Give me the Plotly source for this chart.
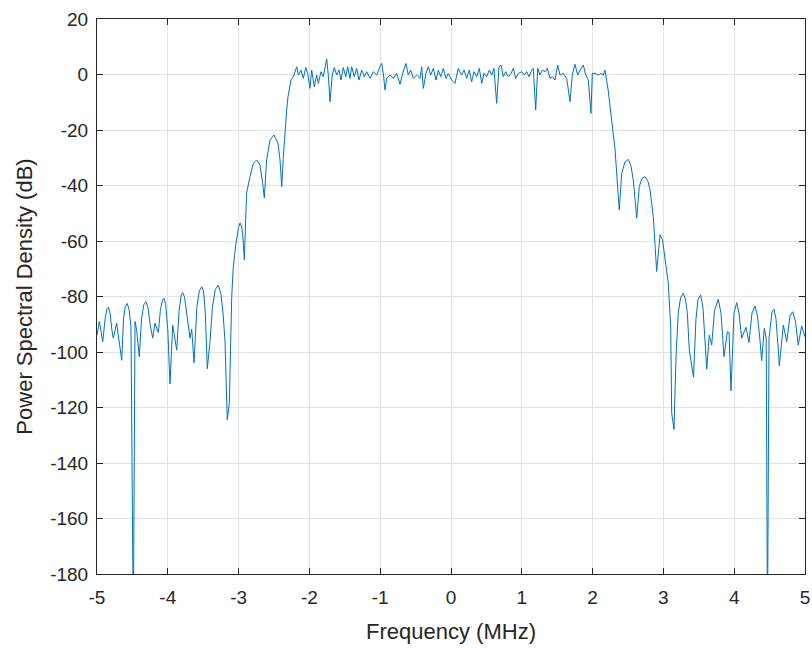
import plotly.graph_objects as go

# Frequency (MHz) and PSD (dB) samples
freq_mhz = [
    -5.000, -4.967, -4.940, -4.919, -4.885, -4.860, -4.840, -4.815, -4.790, -4.770,
    -4.722, -4.690, -4.651, -4.625, -4.600, -4.572, -4.545, -4.520, -4.487, -4.463,
    -4.440, -4.403, -4.370, -4.340, -4.308, -4.280, -4.250, -4.213, -4.181, -4.134,
    -4.105, -4.075, -4.054, -4.030, -4.000, -3.969, -3.931, -3.874, -3.840, -3.810,
    -3.790, -3.765, -3.730, -3.686, -3.662, -3.630, -3.590, -3.555, -3.521, -3.495,
    -3.470, -3.442, -3.404, -3.370, -3.330, -3.287, -3.250, -3.220, -3.192, -3.160,
    -3.131, -3.097, -3.075, -3.037, -3.000, -2.980, -2.955, -2.935, -2.919, -2.887,
    -2.839, -2.792, -2.745, -2.698, -2.660, -2.637, -2.604, -2.557, -2.500, -2.444,
    -2.415, -2.391, -2.368, -2.345, -2.321, -2.302, -2.260,
    -2.227, -2.179, -2.157, -2.119, -2.086, -2.052, -2.024, -1.992, -1.968, -1.931,
    -1.897, -1.874, -1.836, -1.804, -1.756, -1.733, -1.709, -1.677, -1.648, -1.614,
    -1.582, -1.554, -1.521, -1.487, -1.459, -1.427, -1.403, -1.366, -1.332, -1.299,
    -1.261, -1.225, -1.191, -1.144, -1.097, -1.049, -1.003, -0.979, -0.956, -0.932,
    -0.908, -0.862, -0.815, -0.767, -0.720, -0.682, -0.636, -0.603, -0.569, -0.532,
    -0.484, -0.438, -0.414, -0.391, -0.353, -0.321, -0.287, -0.250, -0.212, -0.179,
    -0.145, -0.109, -0.071, -0.038, 0.010, 0.056, 0.103, 0.151, 0.184, 0.222,
    0.258, 0.292, 0.325, 0.363, 0.400, 0.434, 0.466, 0.504, 0.541, 0.575,
    0.607, 0.645, 0.678, 0.706, 0.739, 0.773, 0.809, 0.847, 0.880, 0.914,
    0.951, 0.999, 1.035, 1.069, 1.102, 1.140, 1.162, 1.196, 1.225, 1.257,
    1.290, 1.328, 1.360, 1.398, 1.431, 1.469, 1.507, 1.540, 1.586, 1.634,
    1.681, 1.713, 1.751, 1.790, 1.822, 1.869, 1.903, 1.939, 1.977, 1.996,
    2.034, 2.081, 2.119, 2.151, 2.175, 2.199, 2.222, 2.260,
    2.294, 2.316, 2.363, 2.377, 2.411, 2.458, 2.504, 2.542, 2.575, 2.623,
    2.659, 2.698, 2.740, 2.782, 2.811, 2.857, 2.905, 2.952, 2.987, 3.023,
    3.069, 3.103, 3.117, 3.150, 3.178, 3.210, 3.242, 3.281, 3.312, 3.338,
    3.366, 3.425, 3.460, 3.489, 3.527, 3.559, 3.588, 3.612, 3.648, 3.682,
    3.722, 3.775, 3.814, 3.856, 3.903, 3.927, 3.955, 3.997, 4.035, 4.068,
    4.106, 4.167, 4.209, 4.251, 4.294, 4.329, 4.364, 4.388, 4.425, 4.452,
    4.470, 4.492, 4.506, 4.534, 4.562, 4.590, 4.623, 4.637, 4.694, 4.742,
    4.788, 4.826, 4.866, 4.905, 4.953, 5.000,
]

psd_db = [
    -93.9, -89.0, -93.0, -96.3, -88.0, -84.5, -83.9, -86.0, -92.0, -95.0,
    -89.6, -95.0, -103.0, -88.0, -83.5, -82.5, -85.0, -91.0, -200.0, -89.0,
    -92.0, -101.7, -88.0, -83.0, -81.9, -84.0, -90.0, -95.0, -89.6, -93.0,
    -85.0, -81.2, -80.6, -83.0, -92.0, -111.5, -90.3, -99.3, -85.0, -79.5,
    -78.6, -80.0, -86.0, -95.0, -91.7, -103.9, -84.0, -78.0, -76.5, -78.0,
    -86.0, -106.0, -96.3, -84.0, -77.5, -75.9, -79.0, -86.0, -96.0, -124.5,
    -118.5, -80.0, -69.3, -60.7, -55.0, -53.5, -55.0, -60.0, -66.8, -42.7,
    -36.8, -32.0, -30.8, -32.6, -39.2, -44.5, -30.8, -23.6, -21.8, -24.8,
    -30.8, -40.4, -29.6, -20.0, -12.8, -8.0, -2.0,
    -0.8, 2.8, -0.2, 1.6, -1.4, 2.5, 0.4, -5.0, 1.6, -4.4,
    -0.2, -3.2, 1.0, -0.8, 5.6, -0.2, -9.8, -0.2, 2.5, -0.2,
    1.6, -2.0, 2.5, -0.8, 2.8, -1.4, 2.8, -0.8, 2.2, -2.0,
    1.6, -0.8, 1.0, -1.4, 1.0, -0.2, 2.8, 4.0, 0.4, -5.6,
    -1.4, -0.2, -1.4, 0.4, -3.5, 0.4, 4.0, -0.2, 1.6, -1.4,
    -0.2, -1.4, 2.8, -5.0, 0.4, 2.8, -0.2, 2.2, -2.0, 1.6,
    -0.8, 2.2, -1.4, 0.4, -2.0, -3.2, 2.2, -0.2, 1.6, -1.4,
    1.6, -2.6, 1.0, -0.8, 2.2, -3.2, 0.4, -0.8, 1.6, -0.2,
    2.2, -10.4, 2.8, 3.4, -0.8, 1.0, -0.8, 0.4, 2.2, -1.4,
    0.4, 1.0, -0.2, 1.0, -0.8, 1.6, 2.2, -12.8, 2.2, -0.2,
    1.6, 1.0, 2.2, -1.4, -0.8, -2.0, 3.4, -0.2, 0.4, -1.4,
    -9.8, -0.2, 3.7, -0.2, 1.6, 3.4, -0.2, -2.0, -14.0, 0.4,
    0.4, -0.2, 0.4, -0.2, 1.6, -2.0, -6.0, -14.6,
    -21.2, -26.6, -44.0, -48.8, -35.6, -31.5, -30.6, -33.0, -38.0, -51.8,
    -40.4, -37.5, -36.8, -38.5, -41.6, -51.2, -71.0, -57.8, -59.5, -65.6,
    -75.2, -90.8, -122.0, -127.9, -101.7, -86.0, -80.5, -78.9, -81.0, -86.0,
    -99.3, -109.0, -88.0, -81.0, -79.5, -84.0, -94.5, -106.2, -93.9, -97.5,
    -85.0, -81.0, -86.0, -101.7, -92.7, -93.0, -114.0, -86.0, -82.2, -86.0,
    -95.0, -91.1, -96.6, -86.0, -83.4, -87.0, -95.7, -103.1, -91.5, -95.0,
    -200.0, -95.0, -92.0, -85.5, -84.6, -88.0, -99.3, -105.0, -90.3, -96.3,
    -87.0, -85.5, -89.0, -97.5, -90.6, -94.5,
]

x_ticks = [-5, -4, -3, -2, -1, 0, 1, 2, 3, 4, 5]
y_ticks = [20, 0, -20, -40, -60, -80, -100, -120, -140, -160, -180]

axis_color = "#262626"
grid_color = "#e3e3e3"
font_family = "Liberation Sans, Arial, sans-serif"

fig = go.Figure()
fig.add_trace(go.Scatter(
    x=freq_mhz, y=psd_db, mode="lines",
    line=dict(color="#0072BD", width=1),
    showlegend=False, hoverinfo="skip",
))

axis_common = dict(
    showline=True, linecolor=axis_color, linewidth=1, mirror="ticks",
    ticks="inside", ticklen=6, tickcolor=axis_color, tickwidth=1,
    showgrid=True, gridcolor=grid_color, gridwidth=1, zeroline=False,
    tickfont=dict(family=font_family, size=19, color=axis_color),
    automargin=False,
)

fig.update_xaxes(
    range=[-5, 5], tickvals=x_ticks, ticktext=[str(v) for v in x_ticks],
    title=dict(text="Frequency (MHz)", font=dict(family=font_family, size=22, color=axis_color), standoff=16),
    ticklabelstandoff=6,
    **axis_common,
)
fig.update_yaxes(
    range=[-180, 20], tickvals=y_ticks, ticktext=[str(v) for v in y_ticks],
    title=dict(text="Power Spectral Density (dB)", font=dict(family=font_family, size=22, color=axis_color), standoff=11),
    ticklabelstandoff=4,
    **axis_common,
)

fig.update_layout(
    width=812, height=649,
    margin=dict(l=97, r=7, t=19, b=75),
    paper_bgcolor="white", plot_bgcolor="white",
    font=dict(family=font_family, color=axis_color),
)

fig.write_html(
    "out.html",
    config={"displayModeBar": False},
    post_script="document.body.style.margin='0';document.body.style.overflow='hidden';",
)
